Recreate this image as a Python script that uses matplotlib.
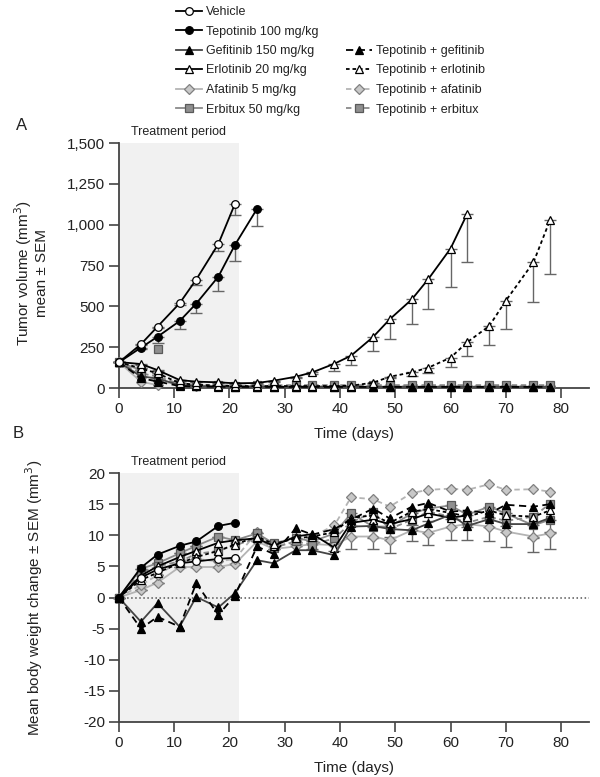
import matplotlib
matplotlib.use("Agg")
import matplotlib.pyplot as plt
from matplotlib.lines import Line2D

plt.rcParams['font.family'] = ['Liberation Sans', 'DejaVu Sans']
plt.rcParams['axes.unicode_minus'] = False

# ---- data ----
D = [0, 4, 7, 11, 14, 18, 21, 25, 28, 32, 35, 39, 42, 46, 49, 53, 56, 60, 63, 67, 70, 75, 78]

# panel A: tumor volume (mm3)
vehicle_days = [0, 4, 7, 11, 14, 18, 21]
vehicle_a = [157, 268, 376, 519, 664, 882, 1127]
vehicle_a_err = [0, 5, 8, 12, 33, 43, 67]

tep_days = [0, 4, 7, 11, 14, 18, 21, 25]
tep_a = [157, 247, 314, 410, 517, 682, 876, 1097]
tep_a_err = [0, 10, 41, 51, 59, 88, 96, 104]

erl_days = [0, 4, 7, 11, 14, 18, 21, 25, 28, 32, 35, 39, 42, 46, 49, 53, 56, 60, 63]
erl_a = [159, 147, 110, 49, 39, 35, 29, 31, 45, 69, 96, 149, 198, 313, 421, 543, 668, 854, 1066]
erl_a_err = [0, 5, 8, 5, 5, 4, 4, 4, 5, 10, 12, 43, 55, 85, 119, 149, 186, 235, 292]

gef_a = [159, 72, 58, 18, 12, 10, 9, 8, 8, 8, 8, 8, 8, 8, 8, 8, 8, 8, 8, 8, 8, 8, 8]
tep_gef_a = [159, 60, 40, 12, 10, 8, 7, 7, 7, 7, 7, 7, 7, 7, 7, 7, 7, 7, 7, 7, 7, 7, 7]

short_days = [0, 4, 7]
afa_a = [159, 39, 18]
erb_a = [159, 110, 237]

tep_afa_a = [159, 70, 45, 20, 15, 12, 12, 12, 12, 12, 12, 12, 12, 12, 12, 12, 12, 12, 12, 12, 12, 12, 12]
tep_erb_a = [159, 90, 70, 25, 18, 16, 15, 16, 17, 18, 18, 18, 18, 18, 18, 18, 18, 18, 18, 18, 18, 18, 18]
tep_erl_a = [159, 120, 90, 30, 20, 15, 12, 12, 12, 12, 12, 12, 14, 33, 69, 96, 125, 186, 280, 380, 535, 770, 1029]
tep_erl_a_err = [0, 0, 0, 0, 0, 0, 0, 0, 0, 0, 0, 0, 0, 5, 10, 23, 35, 55, 84, 117, 174, 245, 331]

# panel B: body weight change
vehicle_b = [0, 3.2, 4.5, 5.5, 5.8, 6.2, 6.4]
tep_b = [0, 4.8, 6.9, 8.3, 9.0, 11.5, 12.0]
gef_b = [0, -3.9, -0.9, -4.7, 0.1, -1.6, 0.7, 6.0, 5.5, 7.6, 7.6, 6.8, 11.4, 11.5, 11.0, 10.8, 11.9, 13.3, 11.5, 12.6, 11.8, 11.8, 12.8]
tep_gef_b = [0, -5.0, -3.1, -4.7, 2.3, -2.8, 0.3, 8.2, 7.0, 11.1, 10.1, 11.0, 12.5, 14.3, 12.7, 14.6, 15.2, 13.8, 14.0, 13.5, 14.9, 14.6, 15.0]
erl_b = [0, 3.5, 5.0, 6.5, 7.5, 8.8, 9.2, 9.5, 8.3, 9.8, 10.2, 8.0, 12.0, 12.5, 11.8, 12.6, 13.5, 12.8, 13.2]
tep_erl_b = [0, 2.8, 4.0, 5.5, 6.5, 7.5, 8.5, 9.8, 8.6, 9.5, 9.8, 10.5, 12.8, 13.2, 12.0, 13.8, 14.2, 13.6, 13.0, 14.0, 13.2, 13.0, 14.0]
afa_b = [0, 1.2, 2.4, 4.9, 4.9, 4.9, 5.4, 9.0, 7.8, 8.2, 8.6, 8.4, 9.8, 9.8, 9.2, 10.8, 10.4, 11.4, 11.8, 11.4, 10.6, 9.8, 10.3]
afa_b_err = [0, 0, 0, 0, 0, 0, 0, 0, 0, 0, 0, 1.0, 2.0, 2.0, 2.0, 1.8, 2.0, 2.2, 2.5, 2.4, 2.5, 2.5, 2.5]
tep_afa_b = [0, 2.0, 3.6, 5.8, 6.2, 5.8, 6.2, 10.5, 8.2, 9.0, 9.8, 11.6, 16.1, 15.8, 14.6, 16.8, 17.3, 17.5, 17.3, 18.2, 17.3, 17.4, 17.0]
erb_b = [0, 4.6, 5.5, 7.1, 8.3, 9.8, 9.2, 10.3, 8.7, 9.6, 9.0, 10.3, 13.5, 11.4, 11.4, 13.5, 14.3, 14.8, 13.3, 14.6, 13.5, 11.6, 12.5]
erb_b_err = [0, 0, 0, 0, 0, 0, 0, 0, 0, 1.0, 1.2, 1.5, 2.0, 1.8, 1.6, 1.8, 2.0, 2.2, 2.0, 1.8, 2.0, 2.0, 2.0]
tep_erb_b = [0, 4.0, 5.0, 5.8, 7.0, 7.5, 8.4, 9.5, 8.0, 9.0, 8.5, 9.5, 12.0, 13.8, 11.0, 12.5, 13.8, 13.0, 12.0, 13.0, 12.3, 13.0, 15.1]

treat_end = 21.7

# ---- styles ----
LG = '#b4b4b4'   # light gray line
MG = '#8a8a8a'   # mid gray line
ms = 5.5
styles = {
    'vehicle': dict(color='black', ls='-', marker='o', mfc='white', mec='black'),
    'tep': dict(color='black', ls='-', marker='o', mfc='black', mec='black'),
    'gef': dict(color='#444444', ls='-', marker='^', mfc='black', mec='black'),
    'erl': dict(color='black', ls='-', marker='^', mfc='white', mec='black'),
    'afa': dict(color=LG, ls='-', marker='D', mfc='#c8c8c8', mec='#808080'),
    'erb': dict(color=MG, ls='-', marker='s', mfc='#8f8f8f', mec='#5a5a5a'),
    'tep_gef': dict(color='black', ls=(0, (4, 2.5)), marker='^', mfc='black', mec='black'),
    'tep_erl': dict(color='black', ls=(0, (2, 1.6)), marker='^', mfc='white', mec='black'),
    'tep_afa': dict(color=LG, ls=(0, (3, 2)), marker='D', mfc='#c8c8c8', mec='#808080'),
    'tep_erb': dict(color=MG, ls=(0, (3, 2)), marker='s', mfc='#8f8f8f', mec='#5a5a5a'),
}


def marker_size(key):
    m = styles[key]['marker']
    if m == 'D':
        return ms - 0.5
    if m == 's':
        return ms + 0.5
    return ms


def line(ax, x, y, key, z=3):
    st = styles[key]
    ax.plot(x, y, color=st['color'], ls=st['ls'], lw=1.3, marker=st['marker'],
            mfc=st['mfc'], mec=st['mec'], ms=marker_size(key), mew=0.9, zorder=z, clip_on=False)


def lower_err(ax, x, y, e, z=2):
    ax.errorbar(x, y, yerr=[e, [0] * len(e)], fmt='none', ecolor='#666666',
                elinewidth=1.0, capsize=4, capthick=1.0, zorder=z, clip_on=False)


fig = plt.figure(figsize=(6, 7.77), dpi=100)
axA = fig.add_axes([0.198, 0.5006, 0.7833, 0.3153])
axB = fig.add_axes([0.198, 0.0708, 0.7833, 0.3204])

for ax in (axA, axB):
    ax.axvspan(0, treat_end, color='#f1f1f1', zorder=0, lw=0)
    for s in ('top', 'right'):
        ax.spines[s].set_visible(False)
    for s in ('left', 'bottom'):
        ax.spines[s].set_color('#444444')
        ax.spines[s].set_linewidth(1.3)
    ax.tick_params(direction='out', length=7, width=1.2, color='#444444',
                   labelsize=11, labelcolor='#222222', pad=3)
    ax.set_xlim(0, 85)
    ax.set_xticks(range(0, 81, 10))
    ax.set_xlabel('Time (days)', fontsize=11, color='#222222', labelpad=8)
    ax.text(10.8, 1.045, 'Treatment period', transform=ax.get_xaxis_transform(),
            ha='center', va='center', fontsize=9, color='#222222')

# ---- panel A ----
axA.set_ylim(0, 1500)
axA.set_yticks(range(0, 1501, 250))
axA.set_yticklabels(['0', '250', '500', '750', '1,000', '1,250', '1,500'])
axA.set_ylabel('Tumor volume (mm$^3$)\nmean \u00b1 SEM', fontsize=11, color='#222222', linespacing=1.1)
axA.yaxis.set_label_coords(-0.149, 0.47)

line(axA, D, tep_afa_a, 'tep_afa', z=3)
line(axA, short_days, afa_a, 'afa', z=3)
# erbitux day-7 point sits alone, no connecting line in the source
axA.plot(short_days[:2], erb_a[:2], color=MG, lw=1.3, zorder=3)
axA.plot(short_days, erb_a, ls='none', marker='s', mfc='#8f8f8f', mec='#5a5a5a',
         ms=marker_size('erb'), mew=0.9, zorder=4)
line(axA, D, tep_erb_a, 'tep_erb', z=4)
line(axA, D, gef_a, 'gef', z=5)
line(axA, D, tep_gef_a, 'tep_gef', z=5)
lower_err(axA, D, tep_erl_a, tep_erl_a_err)
line(axA, D, tep_erl_a, 'tep_erl', z=6)
lower_err(axA, erl_days, erl_a, erl_a_err)
line(axA, erl_days, erl_a, 'erl', z=6)
lower_err(axA, tep_days, tep_a, tep_a_err)
line(axA, tep_days, tep_a, 'tep', z=7)
lower_err(axA, vehicle_days, vehicle_a, vehicle_a_err)
line(axA, vehicle_days, vehicle_a, 'vehicle', z=7)

# ---- panel B ----
axB.set_ylim(-20, 20)
axB.set_yticks(range(-20, 21, 5))
axB.set_ylabel('Mean body weight change \u00b1 SEM (mm$^3$)', fontsize=11, color='#222222')
axB.yaxis.set_label_coords(-0.157, 0.5)
axB.axhline(0, color='#555555', ls=':', lw=1.1, zorder=1)

lower_err(axB, D, afa_b, afa_b_err)
lower_err(axB, D, erb_b, erb_b_err)
line(axB, D, afa_b, 'afa', z=3)
line(axB, D, tep_afa_b, 'tep_afa', z=3)
line(axB, D, erb_b, 'erb', z=4)
line(axB, D, tep_erb_b, 'tep_erb', z=4)
line(axB, erl_days, erl_b, 'erl', z=4)
line(axB, D, tep_erl_b, 'tep_erl', z=4)
line(axB, vehicle_days, vehicle_b, 'vehicle', z=5)
line(axB, D, gef_b, 'gef', z=6)
line(axB, D, tep_gef_b, 'tep_gef', z=6)
line(axB, vehicle_days, tep_b, 'tep', z=7)


# ---- legends ----
def handle(key):
    st = styles[key]
    return Line2D([], [], color=st['color'], ls=st['ls'], lw=1.3, marker=st['marker'],
                  mfc=st['mfc'], mec=st['mec'], ms=marker_size(key), mew=0.9)


left_keys = ['vehicle', 'tep', 'gef', 'erl', 'afa', 'erb']
left_labels = ['Vehicle', 'Tepotinib 100 mg/kg', 'Gefitinib 150 mg/kg', 'Erlotinib 20 mg/kg',
               'Afatinib 5 mg/kg', 'Erbitux 50 mg/kg']
right_keys = ['tep_gef', 'tep_erl', 'tep_afa', 'tep_erb']
right_labels = ['Tepotinib + gefitinib', 'Tepotinib + erlotinib', 'Tepotinib + afatinib',
                'Tepotinib + erbitux']

leg_kw = dict(frameon=False, fontsize=9, handlelength=2.1, handletextpad=0.3,
              labelspacing=0.6, borderpad=0, borderaxespad=0, loc='upper left')
lg1 = fig.legend([handle(k) for k in left_keys], left_labels,
                 bbox_to_anchor=(176 / 600, 1 - 6 / 777), **leg_kw)
lg2 = fig.legend([handle(k) for k in right_keys], right_labels,
                 bbox_to_anchor=(346 / 600, 1 - 45 / 777), **leg_kw)
for lg in (lg1, lg2):
    for t in lg.get_texts():
        t.set_color('#222222')

fig.text(22 / 600, 1 - 125 / 777, 'A', fontsize=12, ha='center', va='center', color='#222222')
fig.text(18 / 600, 1 - 433 / 777, 'B', fontsize=12, ha='center', va='center', color='#222222')

fig.savefig('out.png', dpi=100)
